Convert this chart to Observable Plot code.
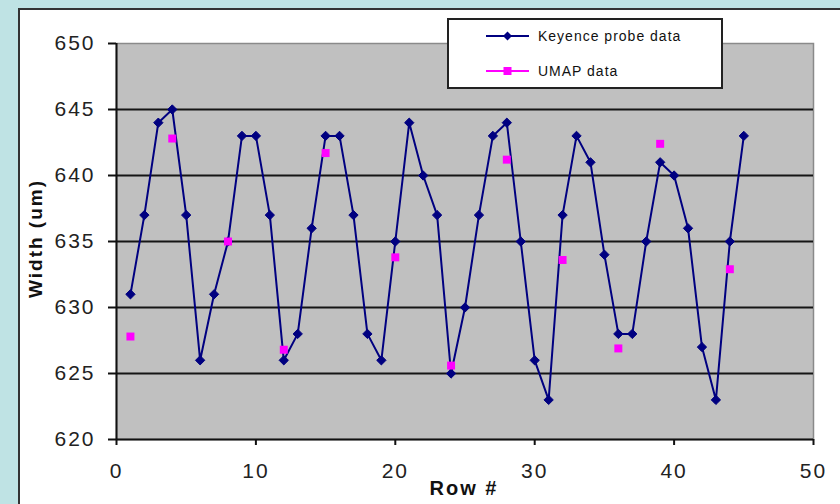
<!DOCTYPE html>
<html><head><meta charset="utf-8">
<script src="https://cdn.jsdelivr.net/npm/d3@7"></script>
<script src="https://cdn.jsdelivr.net/npm/@observablehq/plot@0.6"></script>
<style>
html,body{margin:0;padding:0;}
body{width:840px;height:504px;background:#bfe3e4;position:relative;overflow:hidden;font-family:"Liberation Sans",Arial,sans-serif;}
#panel{position:absolute;left:18px;top:8px;width:840px;height:520px;background:#fff;border-left:2px solid #333;border-top:2px solid #333;}
#chart{position:absolute;left:0;top:0;}
#chart g[aria-label="y-axis tick label"] text,#chart g[aria-label="x-axis tick label"] text{letter-spacing:2px;}
#chart g[aria-label="text"] text{letter-spacing:2px;}
#legend{position:absolute;left:447px;top:18px;width:272px;height:67px;background:#fff;border:2px solid #222;font-size:14px;letter-spacing:1px;color:#111;}
#legend .row{position:absolute;left:36px;height:20px;display:flex;align-items:center;}
#legend .row span{margin-left:8px;}
</style></head>
<body>
<div id="panel"></div>
<div id="chart"></div>
<div id="legend">
  <div class="row" style="top:6px"><svg width="45" height="20"><line x1="1" y1="10" x2="44" y2="10" stroke="#000080" stroke-width="2"/><path d="M22.5,5.5L27,10L22.5,14.5L18,10Z" fill="#000080"/></svg><span>Keyence probe data</span></div>
  <div class="row" style="top:41px"><svg width="45" height="20"><line x1="1" y1="10" x2="44" y2="10" stroke="#ff00ff" stroke-width="2"/><rect x="18.5" y="6" width="8" height="8" fill="#ff00ff"/></svg><span>UMAP data</span></div>
</div>
<script>
const rows = [1,2,3,4,5,6,7,8,9,10,11,12,13,14,15,16,17,18,19,20,21,22,23,24,25,26,27,28,29,30,31,32,33,34,35,36,37,38,39,40,41,42,43,44,45];
const keyenceWidths = [631,637,644,645,637,626,631,635,643,643,637,626,628,636,643,643,637,628,626,635,644,640,637,625,630,637,643,644,635,626,623,637,643,641,634,628,628,635,641,640,636,627,623,635,643];
const umapRows = [1,4,8,12,15,20,24,28,32,36,39,44];
const umapWidths = [627.8,642.8,635.0,626.8,641.7,633.8,625.6,641.2,633.6,626.9,642.4,632.9];
const xTicks = [0,10,20,30,40,50];
const yTicks = [620,625,630,635,640,645,650];

const keyence = rows.map((r,i)=>({row:r,width:keyenceWidths[i]}));
const umap = umapRows.map((r,i)=>({row:r,width:umapWidths[i]}));

const chart = Plot.plot({
  width:840, height:504,
  marginLeft:116, marginRight:27, marginTop:43, marginBottom:65,
  x:{domain:[0,50]},
  y:{domain:[620,650]},
  style:{background:"transparent", fontFamily:"'Liberation Sans', Arial, sans-serif", color:"#222", overflow:"visible"},
  marks:[
    Plot.frame({fill:"#c0c0c0", stroke:"#8a8a8a", strokeWidth:1.5}),
    Plot.ruleY(yTicks.filter(v=>v>620 && v<650), {stroke:"#151515", strokeWidth:2}),
    Plot.ruleX([0], {stroke:"#111", strokeWidth:2}),
    Plot.ruleY([620], {stroke:"#111", strokeWidth:2}),
    Plot.axisY({ticks:yTicks, tickSize:8, tickPadding:13, fontSize:21, label:null, stroke:"#111", strokeWidth:2, fill:"#222"}),
    Plot.axisX({ticks:xTicks, tickSize:6, tickPadding:18, fontSize:21, label:null, stroke:"#111", strokeWidth:2, fill:"#222"}),
    Plot.line(keyence, {x:"row", y:"width", stroke:"#000080", strokeWidth:2}),
    Plot.dot(keyence, {x:"row", y:"width", symbol:"diamond2", r:4.2, fill:"#000080", stroke:"#000080", strokeWidth:1}),
    Plot.dot(umap, {x:"row", y:"width", symbol:"square", r:4.5, fill:"#ff00ff"}),
    Plot.text(["Width (um)"], {frameAnchor:"left", textAnchor:"middle", lineAnchor:"middle", rotate:-90, dx:-81, dy:-3, fontSize:19, fontWeight:"bold", fill:"#111", text:d=>d}),
    Plot.text(["Row #"], {frameAnchor:"bottom", textAnchor:"middle", lineAnchor:"middle", dy:49, dx:-1, fontSize:20, fontWeight:"bold", fill:"#111", text:d=>d})
  ]
});
document.getElementById("chart").appendChild(chart);
</script>
</body></html>
